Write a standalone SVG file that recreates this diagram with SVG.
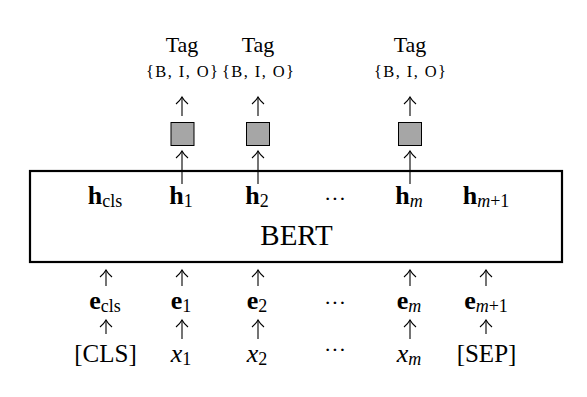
<svg xmlns="http://www.w3.org/2000/svg" width="587" height="397" viewBox="0 0 587 397">
<defs>
<style>
text{font-family:"Liberation Serif","Times New Roman",serif;fill:#000}
.tag{font-size:22px;text-anchor:middle}
.set{font-size:16.5px;text-anchor:middle}
.b{font-size:26px;font-weight:bold;text-anchor:middle}
.it{font-size:26px;font-style:italic;text-anchor:middle}
.rm{font-size:25px;text-anchor:middle}
.sub{font-size:18px;font-weight:normal;font-style:normal}
.subi{font-size:18px;font-weight:normal;font-style:italic}
.dots{font-size:22px;text-anchor:middle}
.bert{font-size:29px;text-anchor:middle}
.cls{fill:#a6a6a6;stroke:#000;stroke-width:1}
.ar{stroke:#000;stroke-width:1.1;fill:none;marker-end:url(#ah)}
</style>
<marker id="ah" markerUnits="userSpaceOnUse" orient="auto" markerWidth="16" markerHeight="16" refX="0" refY="0" viewBox="-9 -8 10 16" overflow="visible">
<path d="M-7,-6 Q-3,-1.5 0,0 Q-3,1.5 -7,6" fill="none" stroke="#000" stroke-width="1.1"/>
</marker>
</defs>

<g id="connectors">
<path class="ar" d="M182,116 V97"/>
<path class="ar" d="M258,116 V97"/>
<path class="ar" d="M410,116 V97"/>
<path class="ar" d="M182,184 V151"/>
<path class="ar" d="M258,184 V151"/>
<path class="ar" d="M410,184 V151"/>
<path class="ar" d="M106,286 V270"/>
<path class="ar" d="M182,286 V270"/>
<path class="ar" d="M258,286 V270"/>
<path class="ar" d="M410,286 V270"/>
<path class="ar" d="M486,286 V270"/>
<path class="ar" d="M106,334 V320"/>
<path class="ar" d="M182,339 V320"/>
<path class="ar" d="M258,339 V320"/>
<path class="ar" d="M410,339 V320"/>
<path class="ar" d="M486,334 V320"/>
</g>

<g id="tag1"><text class="tag" x="182" y="52">Tag</text><text class="set" x="182" y="77" textLength="72" lengthAdjust="spacing">{B, I, O}</text></g>
<g id="tag2"><text class="tag" x="258" y="52">Tag</text><text class="set" x="258" y="77" textLength="72" lengthAdjust="spacing">{B, I, O}</text></g>
<g id="tagm"><text class="tag" x="410" y="52">Tag</text><text class="set" x="410" y="77" textLength="72" lengthAdjust="spacing">{B, I, O}</text></g>

<g id="clf1"><rect class="cls" x="171" y="122.5" width="23" height="23"/></g>
<g id="clf2"><rect class="cls" x="246.5" y="122.5" width="23" height="23"/></g>
<g id="clfm"><rect class="cls" x="398.5" y="122.5" width="23" height="23"/></g>

<g id="bert">
<rect x="30" y="171" width="532" height="91" fill="none" stroke="#000" stroke-width="2.2"/>
<text class="b" x="105" y="204">h<tspan class="sub" dy="3">cls</tspan></text>
<text class="b" x="181" y="204">h<tspan class="sub" dy="3">1</tspan></text>
<text class="b" x="257" y="204">h<tspan class="sub" dy="3">2</tspan></text>
<text class="dots" x="335" y="206">···</text>
<text class="b" x="409" y="204">h<tspan class="subi" dy="3">m</tspan></text>
<text class="b" x="486" y="204">h<tspan class="subi" dy="3">m</tspan><tspan class="sub">+1</tspan></text>
<text class="bert" x="296.5" y="244.5">BERT</text>
</g>

<g id="e_cls"><text class="b" x="105" y="309">e<tspan class="sub" dy="3">cls</tspan></text></g>
<g id="e_1"><text class="b" x="181" y="309">e<tspan class="sub" dy="3">1</tspan></text></g>
<g id="e_2"><text class="b" x="257" y="309">e<tspan class="sub" dy="3">2</tspan></text></g>
<g id="e_dots"><text class="dots" x="335" y="310">···</text></g>
<g id="e_m"><text class="b" x="409" y="309">e<tspan class="subi" dy="3">m</tspan></text></g>
<g id="e_m1"><text class="b" x="486" y="309">e<tspan class="subi" dy="3">m</tspan><tspan class="sub">+1</tspan></text></g>

<g id="x_cls"><text class="rm" x="105.5" y="362">[CLS]</text></g>
<g id="x_1"><text class="it" x="181" y="362">x<tspan class="sub" dy="3">1</tspan></text></g>
<g id="x_2"><text class="it" x="257" y="362">x<tspan class="sub" dy="3">2</tspan></text></g>
<g id="x_dots"><text class="dots" x="335" y="357">···</text></g>
<g id="x_m"><text class="it" x="409" y="362">x<tspan class="subi" dy="3">m</tspan></text></g>
<g id="x_sep"><text class="rm" x="486.5" y="362">[SEP]</text></g>
</svg>
